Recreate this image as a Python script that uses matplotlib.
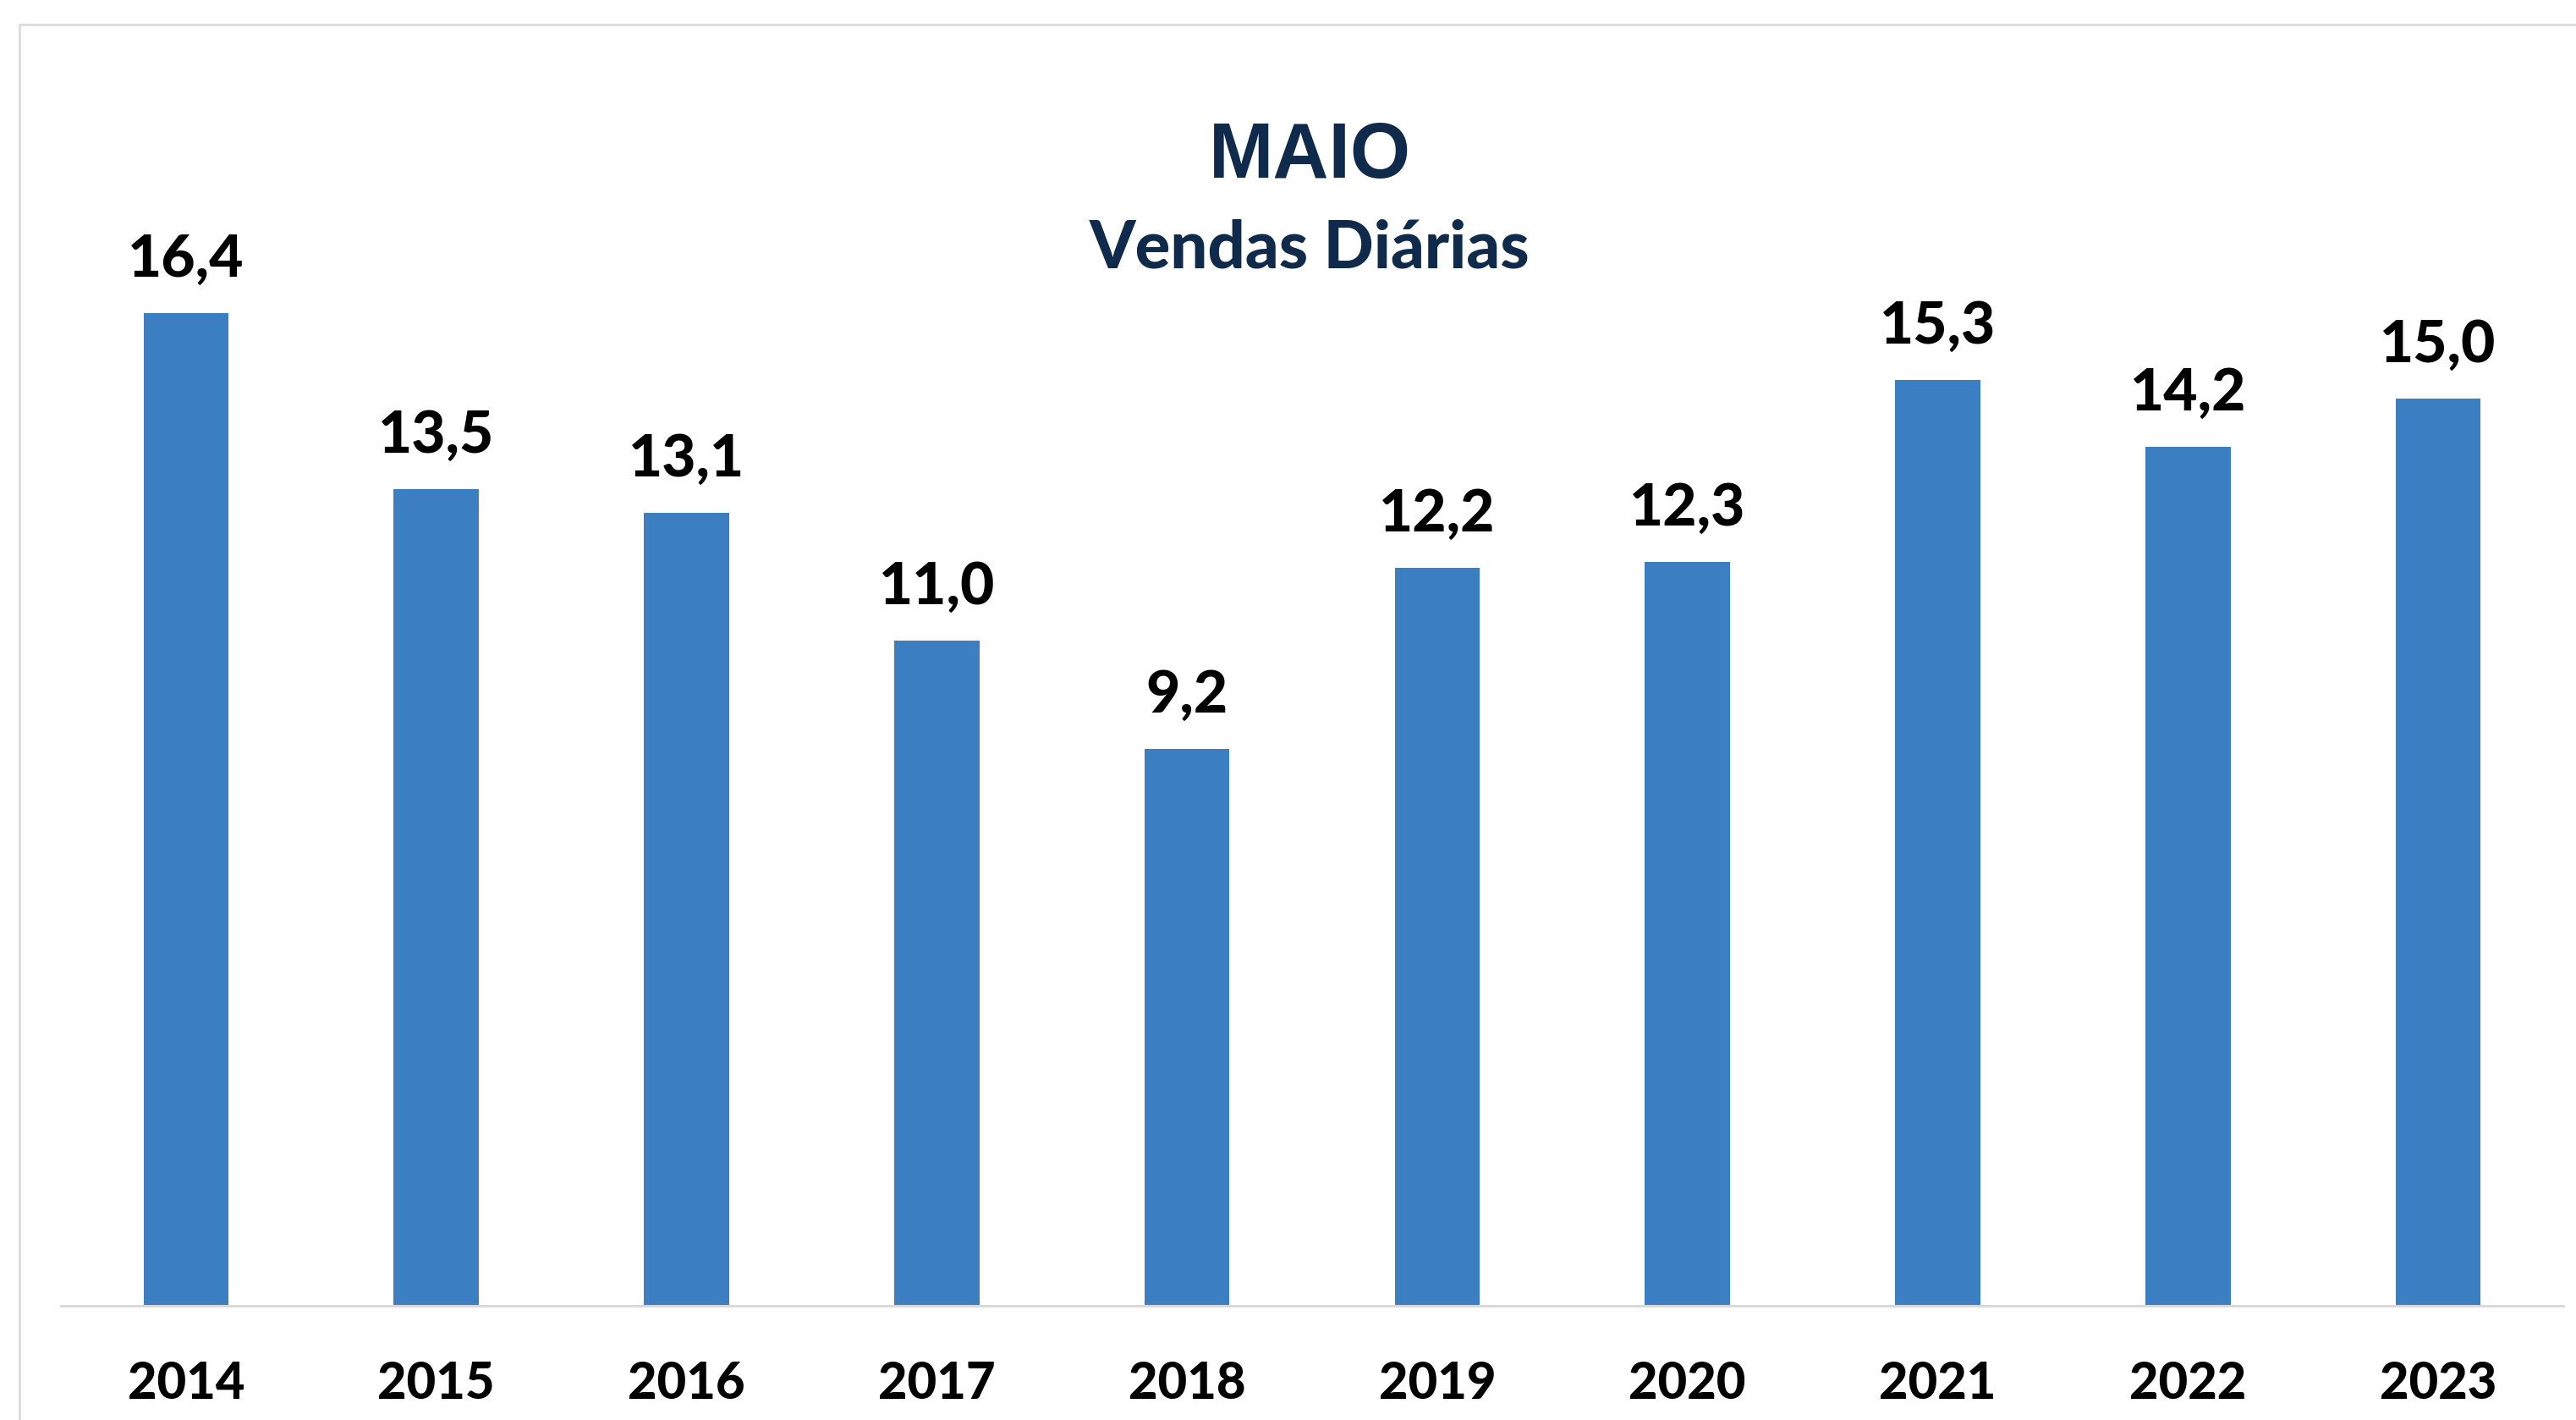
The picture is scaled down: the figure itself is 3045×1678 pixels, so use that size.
import matplotlib
matplotlib.use("Agg")
import matplotlib.pyplot as plt
from matplotlib.lines import Line2D

# dados
anos = ["2014", "2015", "2016", "2017", "2018", "2019", "2020", "2021", "2022", "2023"]
vendas = [16.4, 13.5, 13.1, 11.0, 9.2, 12.2, 12.3, 15.3, 14.2, 15.0]
titulo = "MAIO"
subtitulo = "Vendas Diárias"

W, H, DPI = 3045, 1678, 100
azul = "#3c7ec2"
navy = "#102a4c"

fig = plt.figure(figsize=(W / DPI, H / DPI), dpi=DPI)
fig.patch.set_facecolor("white")

# eixo: de x=72 a x=3030 px, base em y=1543 px
ax_bottom = (H - 1543) / H
ax_height = 1400 / H
ax = fig.add_axes([72 / W, ax_bottom, (3030 - 72) / W, ax_height])

x = range(len(anos))
bars = ax.bar(x, vendas, width=0.34, color=azul, zorder=2)

ax.set_xlim(-0.5, len(anos) - 0.5)
ax.set_ylim(0, 1400 / 71.5)

for s in ["top", "right", "left"]:
    ax.spines[s].set_visible(False)
ax.spines["bottom"].set_color("#d9d9d9")
ax.spines["bottom"].set_linewidth(2.2)
ax.set_yticks([])
ax.set_xticks(list(x))
ax.set_xticklabels(anos, fontfamily="Lato", fontweight=900, fontsize=43, color="black")
ax.tick_params(axis="x", length=0, pad=46)

# rótulos dos valores
for xi, v in zip(x, vendas):
    ax.annotate(f"{v:.1f}".replace(".", ","), xy=(xi, v), xytext=(0, 31),
                textcoords="offset points", ha="center", va="baseline",
                fontfamily="Lato", fontweight=900, fontsize=50, color="black")

# título
fig.text(1548 / W, 1 - 186 / H, titulo, ha="center", va="center",
         fontfamily="Liberation Sans", fontweight="bold", fontsize=66, color=navy)
fig.text(1548 / W, 1 - 294 / H, subtitulo, ha="center", va="center",
         fontfamily="Lato", fontweight=900, fontsize=56, color=navy)

# moldura
fig.add_artist(Line2D([23 / W, 23 / W], [0, 1 - 29 / H], color="#dddddd", lw=2.2,
                      transform=fig.transFigure))
fig.add_artist(Line2D([23 / W, 1], [1 - 29 / H, 1 - 29 / H], color="#dddddd", lw=2.2,
                      transform=fig.transFigure))

fig.savefig("out.png", dpi=DPI)
